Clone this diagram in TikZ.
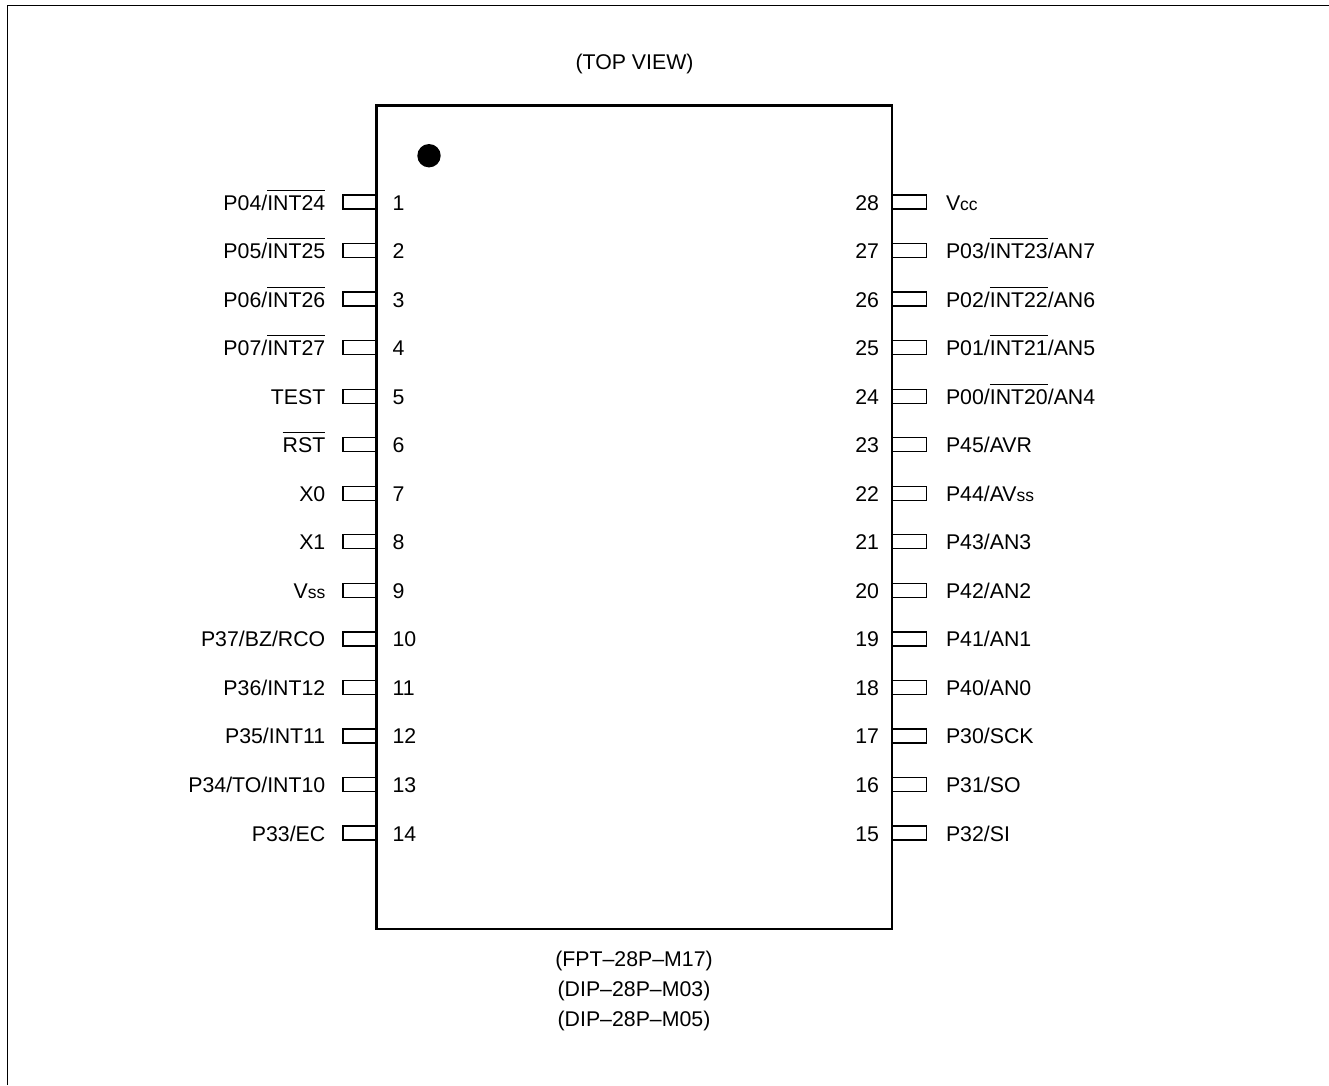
\documentclass[tikz,border=0pt]{standalone}
\usepackage{fontspec}
\setmainfont{Liberation Sans}
\newcommand\ovl[1]{\setbox0\hbox{#1}\rlap{\rule[19.4pt]{\wd0}{1pt}}\box0}
\newcommand\smalltxt[1]{{\fontsize{17.5pt}{18pt}\selectfont #1}}
\tikzset{
  chipbody/.style={draw=black,line width=2.8pt,fill=none},
  frameline/.style={draw=black,line width=1.1pt},
  pinbox/.style={draw=black,line width=1.3pt,fill=white,minimum height=14pt,inner sep=0pt,outer sep=0pt},
  lbl/.style={inner sep=0pt,outer sep=0pt,font=\fontsize{21.3pt}{24pt}\selectfont},
  pinone/.style={circle,fill=black,minimum size=23.4pt,inner sep=0pt,draw=none}
}
\begin{document}
\begin{tikzpicture}[x=1pt,y=-1pt]
\useasboundingbox (0,0) rectangle (1329,1085);
\fill[white] (0,0) rectangle (1329,1085);
\draw[frameline] (7.3,1085) -- (7.3,5.3) -- (1329,5.3);
\foreach \n/\t [count=\i from 0] in {
 1/{P04/\ovl{INT24}},2/{P05/\ovl{INT25}},3/{P06/\ovl{INT26}},4/{P07/\ovl{INT27}},
 5/{TEST},6/{\ovl{RST}},7/{X0},8/{X1},9/{V\smalltxt{ss}},10/{P37/BZ/RCO},
 11/{P36/INT12},12/{P35/INT11},13/{P34/TO/INT10},14/{P33/EC}}{
  \pgfmathsetmacro\yy{202+48.54*\i}
  \node[pinbox,minimum width=34pt] (pin\n) at (360,\yy) {};
  \node[lbl,anchor=base east] (name\n) at (325.3,\yy+8) {\t};
  \node[lbl,anchor=base west] (num\n) at (392.5,\yy+8) {\n};
}
\foreach \n/\t [count=\i from 0] in {
 28/{V\smalltxt{cc}},27/{P03/\ovl{INT23}/AN7},26/{P02/\ovl{INT22}/AN6},25/{P01/\ovl{INT21}/AN5},
 24/{P00/\ovl{INT20}/AN4},23/{P45/AVR},22/{P44/AV\smalltxt{ss}},21/{P43/AN3},20/{P42/AN2},
 19/{P41/AN1},18/{P40/AN0},17/{P30/SCK},16/{P31/SO},15/{P32/SI}}{
  \pgfmathsetmacro\yy{202+48.54*\i}
  \node[pinbox,minimum width=35pt] (pin\n) at (909,\yy) {};
  \node[lbl,anchor=base west] (name\n) at (946,\yy+8) {\t};
  \node[lbl,anchor=base east] (num\n) at (879,\yy+8) {\n};
}
\node[chipbody,minimum width=515.5pt,minimum height=823.7pt,inner sep=0pt] (chip) at (634.25,517.15) {};
\node[pinone] (dot) at (429,155.7) {};
\node[lbl] (top) at (634.5,63.5) {(TOP VIEW)};
\node[lbl] (fpt) at (634,960.5) {(FPT–28P–M17)};
\node[lbl] (dipa) at (634,990.5) {(DIP–28P–M03)};
\node[lbl] (dipb) at (634,1020.5) {(DIP–28P–M05)};
\end{tikzpicture}
\end{document}
